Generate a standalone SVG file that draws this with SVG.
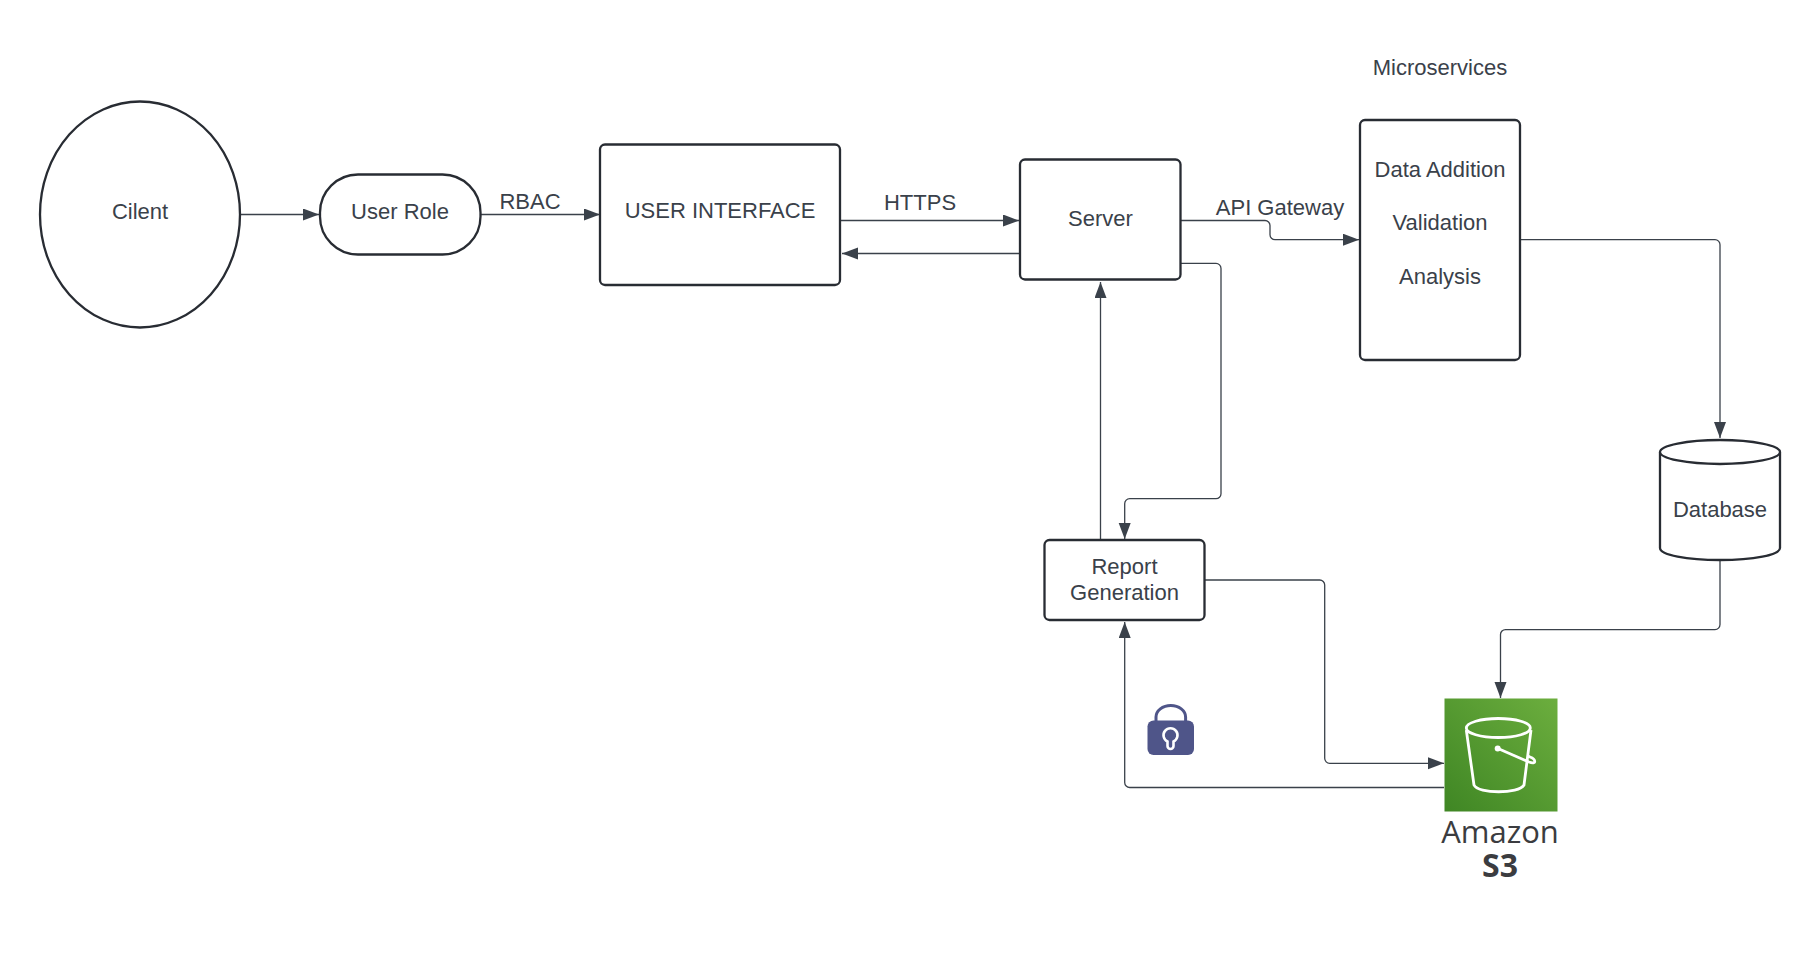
<svg xmlns="http://www.w3.org/2000/svg" width="1820" height="957" viewBox="0 0 1820 957">
<style>
text{font-family:"Liberation Sans",Arial,sans-serif;font-size:22px;fill:#3a414a;text-anchor:middle}
.n{fill:#fff;stroke:#282c33;stroke-width:2.3}
.c{fill:none;stroke:#3a414a;stroke-width:1.3;marker-end:url(#a)}
.w{fill:none;stroke:#fff;stroke-width:2.8}
.aws{font-family:"Open Sans","Noto Sans",sans-serif;fill:#3b3c40}
</style>
<defs>
<marker id="a" markerUnits="userSpaceOnUse" markerWidth="18" markerHeight="14" refX="16" refY="6" orient="auto"><path d="M0 0L16 6L0 12Z" fill="#3a414a"/></marker>
<linearGradient id="g" x1="0" y1="1" x2="1" y2="0"><stop offset="0" stop-color="#3f8624"/><stop offset="1" stop-color="#6cae3e"/></linearGradient>
</defs>
<rect width="1820" height="957" fill="#fff"/>
<g id="connectors">
<path class="c" d="M240 214.5H319"/>
<path class="c" d="M481 214.5H600"/>
<path class="c" d="M841 220.5H1019"/>
<path class="c" d="M1020 253.5H842"/>
<path class="c" d="M1181 220.5H1265a5 5 0 0 1 5 5V234.7a5 5 0 0 0 5 5H1359"/>
<path class="c" d="M1520 239.7H1715a5 5 0 0 1 5 5V438"/>
<path class="c" d="M1720 560V624.6a5 5 0 0 1 -5 5H1505.5a5 5 0 0 0 -5 5V698"/>
<path class="c" d="M1181 263.4H1216a5 5 0 0 1 5 5V493.7a5 5 0 0 1 -5 5H1129.7a5 5 0 0 0 -5 5V539"/>
<path class="c" d="M1100.5 540V282"/>
<path class="c" d="M1205 580H1319.7a5 5 0 0 1 5 5V758.3a5 5 0 0 0 5 5H1444"/>
<path class="c" d="M1444 787.5H1129.7a5 5 0 0 1 -5 -5V622"/>
</g>
<g id="client"><ellipse class="n" cx="140" cy="214.5" rx="100" ry="113"/><text x="140" y="219">Cilent</text></g>
<g id="user-role"><rect class="n" x="320" y="174.5" width="160.5" height="80" rx="38"/><text x="400" y="219">User Role</text></g>
<text x="530" y="209" id="label-rbac">RBAC</text>
<g id="user-interface"><rect class="n" x="600" y="144.5" width="240" height="140.5" rx="5"/><text x="720" y="218">USER INTERFACE</text></g>
<text x="920" y="209.5" id="label-https">HTTPS</text>
<g id="server"><rect class="n" x="1020" y="159.5" width="160.5" height="120" rx="5"/><text x="1100.5" y="226">Server</text></g>
<text x="1280" y="215" id="label-api">API Gateway</text>
<text x="1440" y="75" id="label-microservices">Microservices</text>
<g id="microservices"><rect class="n" x="1360" y="120" width="160" height="240" rx="5"/><text x="1440" y="177">Data Addition</text><text x="1440" y="230">Validation</text><text x="1440" y="284">Analysis</text></g>
<g id="database"><path class="n" d="M1660 452V548C1660 555 1687 560 1720 560S1780 555 1780 548V452"/><ellipse class="n" cx="1720" cy="452" rx="60" ry="12"/><text x="1720" y="517">Database</text></g>
<g id="report"><rect class="n" x="1044.5" y="540" width="160" height="80" rx="5"/><text x="1124.5" y="573.5">Report</text><text x="1124.5" y="600">Generation</text></g>
<g id="lock"><path d="M1156 722V717a14.8 11.5 0 0 1 29.6 0V722" fill="none" stroke="#4f5589" stroke-width="3"/><rect x="1147.5" y="720.5" width="46.5" height="34.5" rx="6" fill="#4f5589"/><path d="M1167.5 741.5a7 7 0 1 1 6 0V746a3 3 0 0 1 -6 0Z" fill="#4f5589" stroke="#fff" stroke-width="2.6"/></g>
<g id="s3"><rect x="1444.5" y="698.5" width="113" height="113" fill="url(#g)"/>
<ellipse class="w" cx="1498.3" cy="728" rx="32" ry="9.5"/>
<path class="w" d="M1466.3 730L1474 785C1478 794 1519 794 1524 785L1531 730"/>
<circle cx="1497.7" cy="748.5" r="3" fill="#fff"/>
<path class="w" d="M1498 748.5L1529 762C1537 765 1536 759 1530 757L1528 756"/>
<text class="aws" x="1500" y="843" style="font-size:31px;font-weight:500">Amazon<tspan x="1500" y="877" style="font-size:32px;font-weight:700">S3</tspan></text></g>
</svg>
